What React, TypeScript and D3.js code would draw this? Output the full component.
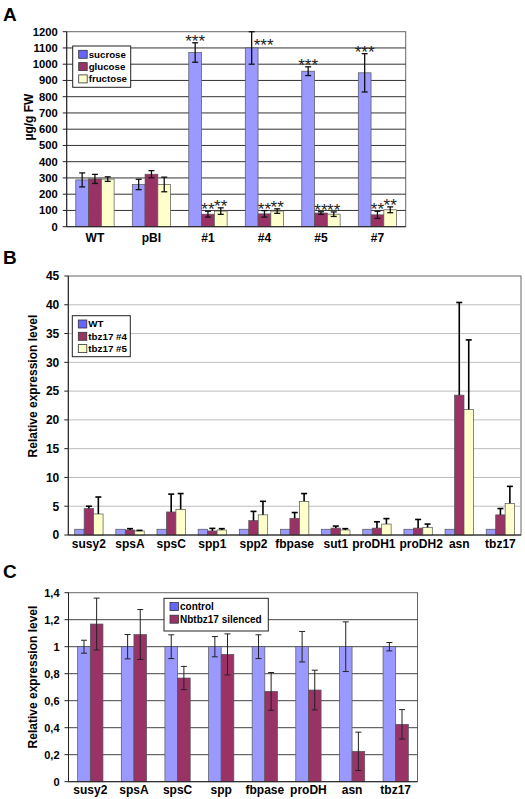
import React from "react";
import * as d3 from "d3";

// ---------- Panel A data ----------
const sugarCategories = ["WT", "pBI", "#1", "#4", "#5", "#7"];
const sucrose = [288, 260, 1072, 1100, 957, 947];
const sucroseErr = [43, 32, 60, 100, 27, 118];
const glucose = [294, 323, 77, 79, 84, 73];
const glucoseErr = [28, 22, 18, 20, 8, 22];
const fructose = [293, 260, 96, 96, 77, 104];
const fructoseErr = [14, 45, 20, 14, 14, 18];
const sucroseSig = ["", "", "***", "***", "***", "***"];
const glucoseSig = ["", "", "**", "**", "**", "**"];
const fructoseSig = ["", "", "**", "**", "**", "**"];
const sugarTicks = [0, 100, 200, 300, 400, 500, 600, 700, 800, 900, 1000, 1100, 1200];

// ---------- Panel B data ----------
const geneCategoriesB = ["susy2", "spsA", "spsC", "spp1", "spp2", "fbpase", "sut1", "proDH1", "proDH2", "asn", "tbz17"];
const wtB = [1, 1, 1, 1, 1, 1, 1, 1, 1, 1, 1];
const wtBErr = [0, 0, 0, 0, 0, 0, 0, 0, 0, 0, 0];
const tbz4B = [4.6, 0.87, 4.0, 0.7, 2.5, 2.9, 1.2, 1.2, 1.2, 24.3, 3.5];
const tbz4BErr = [0.4, 0.23, 3.1, 0.45, 1.6, 1.0, 0.35, 1.1, 1.5, 16.1, 1.1];
const tbz5B = [3.65, 0.7, 4.46, 0.87, 3.5, 5.85, 0.87, 1.9, 1.33, 21.8, 5.5];
const tbz5BErr = [2.95, 0.1, 2.74, 0.23, 2.35, 1.35, 0.23, 0.95, 0.57, 12.1, 2.95];
const ticksB = [0, 5, 10, 15, 20, 25, 30, 35, 40, 45];

// ---------- Panel C data ----------
const geneCategoriesC = ["susy2", "spsA", "spsC", "spp", "fbpase", "proDH", "asn", "tbz17"];
const controlC = [1, 1, 1, 1, 1, 1, 1, 1];
const controlCErr = [0.048, 0.09, 0.088, 0.075, 0.088, 0.113, 0.184, 0.031];
const silencedC = [1.168, 1.09, 0.768, 0.943, 0.669, 0.679, 0.225, 0.425];
const silencedCErr = [0.192, 0.185, 0.086, 0.152, 0.14, 0.147, 0.142, 0.109];
const ticksC = [0, 0.2, 0.4, 0.6, 0.8, 1.0, 1.2, 1.4];

const BLUE = "#9999ff";
const BLUE_SW = "#6666ff";
const MAROON = "#993366";
const YELLOW = "#ffffcc";
const FONT = "'Liberation Sans', Arial, sans-serif";

type Series = { name: string; color: string; swatch: string; values: number[]; errs: number[]; sig?: string[] };

type PanelProps = {
  letter: string;
  letterY: number;
  categories: string[];
  series: Series[];
  ticks: number[];
  tickFmt: (v: number) => string;
  yMax: number;
  x0: number; x1: number; yTop: number; yBottom: number;
  barRatio: number;
  gridColor: string;
  errMode: "both" | "up";
  errColor: string;
  errWidth: number;
  yTitle: string;
  yTitleX: number;
  yTitleY: number;
  tickFont: number;
  xLabelY: number;
  legend: { x: number; y: number; w: number; h: number; rowH: number; font: number };
};

let measureCtx: CanvasRenderingContext2D | null = null;
function textWidth(s: string, font: string): number {
  if (!measureCtx) {
    const c = document.createElement("canvas");
    measureCtx = c.getContext("2d");
  }
  if (!measureCtx) return s.length * 7;
  measureCtx.font = font;
  return measureCtx.measureText(s).width;
}

// spread overlapping category labels apart (like the spreadsheet does)
function spreadLabels(centers: number[], widths: number[], gap: number): number[] {
  const p = centers.slice();
  for (let it = 0; it < 60; it++) {
    for (let i = 0; i < p.length - 1; i++) {
      const ov = p[i] + widths[i] / 2 + gap - (p[i + 1] - widths[i + 1] / 2);
      if (ov > 0) {
        p[i] -= ov / 2;
        p[i + 1] += ov / 2;
      }
    }
  }
  return p;
}

function Panel(p: PanelProps) {
  const x = d3.scaleBand<string>().domain(p.categories).range([p.x0, p.x1]).padding(0);
  const y = d3.scaleLinear().domain([0, p.yMax]).range([p.yBottom, p.yTop]);
  const bw = x.bandwidth();
  const barW = bw / p.barRatio;
  const groupW = barW * p.series.length;
  const inner = d3.scaleBand<number>().domain(d3.range(p.series.length)).range([0, groupW]).padding(0);
  const capW = 3;
  const labelFont = "bold 12px 'Liberation Sans', Arial, sans-serif";
  const labelCenters = spreadLabels(
    p.categories.map((c) => (x(c) as number) + bw / 2),
    p.categories.map((c) => textWidth(c, labelFont)),
    4
  );
  return (
    <g fontFamily={FONT}>
      <text x={3} y={p.letterY} fontSize={19} fontWeight="bold">{p.letter}</text>
      {/* plot frame + grid */}
      <rect x={p.x0} y={p.yTop} width={p.x1 - p.x0} height={p.yBottom - p.yTop} fill="white" stroke="#666" strokeWidth={1} />
      {p.ticks.map((t) => (
        <g key={t}>
          {t > 0 && t < p.yMax && (
            <line x1={p.x0} x2={p.x1} y1={y(t)} y2={y(t)} stroke={p.gridColor} strokeWidth={1} />
          )}
          <line x1={p.x0 - 4} x2={p.x0} y1={y(t)} y2={y(t)} stroke="#222" />
          <text x={p.x0 - 9} y={y(t)} dy="0.36em" textAnchor="end" fontSize={p.tickFont} fontWeight="bold">
            {p.tickFmt(t)}
          </text>
        </g>
      ))}
      {/* bars */}
      {p.categories.map((c, ci) => {
        const gx = (x(c) as number) + (bw - groupW) / 2;
        return (
          <g key={c}>
            {p.series.map((s, si) => {
              const bx = gx + (inner(si) as number);
              const v = s.values[ci];
              return (
                <rect key={s.name} x={bx} y={y(v)} width={barW} height={y(0) - y(v)} fill={s.color} stroke="#555" strokeWidth={0.7} />
              );
            })}
          </g>
        );
      })}
      {/* axes */}
      <line x1={p.x0} x2={p.x0} y1={p.yTop} y2={p.yBottom} stroke="#222" strokeWidth={1} />
      <line x1={p.x0} x2={p.x1} y1={p.yBottom} y2={p.yBottom} stroke="#222" strokeWidth={1} />
      {/* error bars + significance */}
      {p.categories.map((c, ci) => {
        const gx = (x(c) as number) + (bw - groupW) / 2;
        return (
          <g key={c + "e"}>
            {p.series.map((s, si) => {
              const cx = gx + (inner(si) as number) + barW / 2;
              const v = s.values[ci];
              const e = s.errs[ci];
              const hi = v + e;
              const lo = p.errMode === "both" ? v - e : v;
              const sig = s.sig ? s.sig[ci] : "";
              let sigEl = null;
              if (sig) {
                if (y(hi) - 8 < p.yTop) {
                  sigEl = (
                    <text x={cx + 2} y={y(v) + 3} fontSize={17} fill="#222">{sig}</text>
                  );
                } else {
                  sigEl = (
                    <text x={cx} y={y(hi) + 4} fontSize={17} fill="#222" textAnchor="middle">{sig}</text>
                  );
                }
              }
              return (
                <g key={s.name}>
                  {e > 0 && (
                    <g stroke={p.errColor} strokeWidth={p.errWidth}>
                      <line x1={cx} x2={cx} y1={y(hi)} y2={y(lo)} />
                      <line x1={cx - capW} x2={cx + capW} y1={y(hi)} y2={y(hi)} />
                      {p.errMode === "both" && <line x1={cx - capW} x2={cx + capW} y1={y(lo)} y2={y(lo)} />}
                    </g>
                  )}
                  {sigEl}
                </g>
              );
            })}
          </g>
        );
      })}
      {/* x labels */}
      {p.categories.map((c, ci) => (
        <text key={c + "l"} x={labelCenters[ci]} y={p.xLabelY} textAnchor="middle" fontSize={12} fontWeight="bold">
          {c}
        </text>
      ))}
      {/* y title */}
      <text transform={`translate(${p.yTitleX},${p.yTitleY}) rotate(-90)`} textAnchor="middle" fontSize={12} fontWeight="bold">
        {p.yTitle}
      </text>
      {/* legend */}
      <g>
        <rect x={p.legend.x} y={p.legend.y} width={p.legend.w} height={p.legend.h} fill="white" stroke="#222" strokeWidth={1} />
        {p.series.map((s, si) => {
          const cy = p.legend.y + 8.3 + si * p.legend.rowH;
          return (
            <g key={s.name + "lg"}>
              <rect x={p.legend.x + 6} y={cy - 4} width={8.5} height={8} fill={s.swatch} stroke="#333" strokeWidth={0.8} />
              <text x={p.legend.x + 16} y={cy} dy="0.35em" fontSize={p.legend.font} fontWeight="bold">{s.name}</text>
            </g>
          );
        })}
      </g>
    </g>
  );
}

export default function App() {
  const fmtComma = (v: number) => (v === 0 ? "0" : d3.format(".1~f")(v).replace(".", ","));
  return (
    <svg width={525} height={799} style={{ position: "absolute", left: 0, top: 0, background: "white" }}>
      <rect width={525} height={799} fill="white" />
      <Panel
        letter="A"
        letterY={21}
        categories={sugarCategories}
        series={[
          { name: "sucrose", color: BLUE, swatch: BLUE_SW, values: sucrose, errs: sucroseErr, sig: sucroseSig },
          { name: "glucose", color: MAROON, swatch: MAROON, values: glucose, errs: glucoseErr, sig: glucoseSig },
          { name: "fructose", color: YELLOW, swatch: YELLOW, values: fructose, errs: fructoseErr, sig: fructoseSig },
        ]}
        ticks={sugarTicks}
        tickFmt={(v) => String(v)}
        yMax={1200}
        x0={66.7} x1={405.7} yTop={31.7} yBottom={226.7}
        barRatio={4.42}
        gridColor="#333"
        errMode="both"
        errColor="#111"
        errWidth={1.3}
        yTitle="µg/g FW"
        yTitleX={33}
        yTitleY={117}
        tickFont={11.2}
        xLabelY={241.5}
        legend={{ x: 72.7, y: 46, w: 58, h: 41.3, rowH: 12.3, font: 9.7 }}
      />
      <Panel
        letter="B"
        letterY={264}
        categories={geneCategoriesB}
        series={[
          { name: "WT", color: BLUE, swatch: BLUE_SW, values: wtB, errs: wtBErr },
          { name: "tbz17 #4", color: MAROON, swatch: MAROON, values: tbz4B, errs: tbz4BErr },
          { name: "tbz17 #5", color: YELLOW, swatch: YELLOW, values: tbz5B, errs: tbz5BErr },
        ]}
        ticks={ticksB}
        tickFmt={(v) => String(v)}
        yMax={45}
        x0={68.3} x1={521} yTop={276} yBottom={535}
        barRatio={4.35}
        gridColor="#bdbdbd"
        errMode="up"
        errColor="#000"
        errWidth={1.6}
        yTitle="Relative expression level"
        yTitleX={37}
        yTitleY={386}
        tickFont={12}
        xLabelY={548}
        legend={{ x: 72.3, y: 315.7, w: 58, h: 41, rowH: 12.3, font: 9.8 }}
      />
      <Panel
        letter="C"
        letterY={578}
        categories={geneCategoriesC}
        series={[
          { name: "control", color: BLUE, swatch: BLUE_SW, values: controlC, errs: controlCErr },
          { name: "Nbtbz17 silenced", color: MAROON, swatch: MAROON, values: silencedC, errs: silencedCErr },
        ]}
        ticks={ticksC}
        tickFmt={fmtComma}
        yMax={1.4}
        x0={68.5} x1={417.5} yTop={592.7} yBottom={781.7}
        barRatio={3.45}
        gridColor="#444"
        errMode="both"
        errColor="#222"
        errWidth={1}
        yTitle="Relative expression level"
        yTitleX={37}
        yTitleY={677}
        tickFont={11}
        xLabelY={794}
        legend={{ x: 164, y: 598.3, w: 104.3, h: 32.7, rowH: 12.6, font: 10 }}
      />
    </svg>
  );
}
